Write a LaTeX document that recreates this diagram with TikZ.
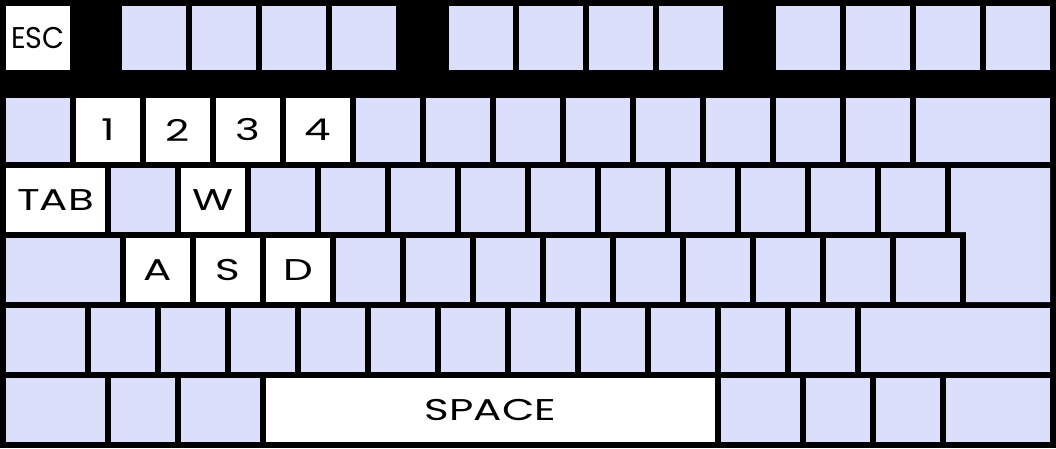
\documentclass[tikz,border=0pt]{standalone}
\usepackage{fontspec}
\usepackage{graphicx}
\setmainfont{Poppins}
\newfontfamily\keyfont[FakeStretch=1.4]{Poppins}
\definecolor{keyblue}{RGB}{220,223,252}
\tikzset{
  key/.style={rectangle, inner sep=0pt, outer sep=0pt, anchor=north west,
    minimum height=64pt, minimum width=64pt, draw=none, text=black,
    font=\keyfont\fontsize{30}{30}\selectfont},
  bluekey/.style={key, fill=keyblue},
  whitekey/.style={key, fill=white},
}
\begin{document}
\begin{tikzpicture}[x=1pt,y=-1pt]
\fill[black] (0,0) rectangle (1056,448);
\useasboundingbox (0,0) rectangle (1056,448);
% function row
\node[whitekey] (esc) at (6,6) {\scalebox{0.68}[1]{ESC}};
\foreach \x [count=\i] in {122,192,262,332,449,519,589,659,776,846,916,986}
  \node[bluekey] (f\i) at (\x,6) {};
% number row
\node[bluekey] (grave) at (6,98) {};
\node[whitekey] (k1) at (76,98) {1};
\node[whitekey] (k2) at (146,98) {2};
\node[whitekey] (k3) at (216,98) {3};
\node[whitekey] (k4) at (286,98) {4};
\foreach \k in {0,...,7}
  \node[bluekey] (n\k) at (356+70*\k,98) {};
\node[bluekey, minimum width=134pt] (bksp) at (916,98) {};
% tab row
\node[whitekey, minimum width=99pt] (tab) at (6,168) {TAB};
\node[bluekey] (q) at (111,168) {};
\node[whitekey] (w) at (181,168) {W};
\foreach \k in {0,...,9}
  \node[bluekey] (t\k) at (251+70*\k,168) {};
\fill[keyblue] (951,168) -- (1050,168) -- (1050,302) -- (966,302) -- (966,232) -- (951,232) -- cycle;
% caps row
\node[bluekey, minimum width=114pt] (caps) at (6,238) {};
\node[whitekey] (a) at (126,238) {A};
\node[whitekey] (s) at (196,238) {S};
\node[whitekey] (d) at (266,238) {D};
\foreach \k in {0,...,8}
  \node[bluekey] (c\k) at (336+70*\k,238) {};
% shift row
\node[bluekey, minimum width=79pt] (lshift) at (6,308) {};
\foreach \k in {0,...,10}
  \node[bluekey] (z\k) at (91+70*\k,308) {};
\node[bluekey, minimum width=189pt] (rshift) at (861,308) {};
% bottom row
\node[bluekey, minimum width=99pt] (lctrl) at (6,378) {};
\node[bluekey] (lwin) at (111,378) {};
\node[bluekey, minimum width=79pt] (lalt) at (181,378) {};
\node[whitekey, minimum width=449pt] (space) at (266,378) {SPACE};
\node[bluekey, minimum width=79pt] (ralt) at (721,378) {};
\node[bluekey] (rwin) at (806,378) {};
\node[bluekey] (menu) at (876,378) {};
\node[bluekey, minimum width=104pt] (rctrl) at (946,378) {};
\end{tikzpicture}
\end{document}
